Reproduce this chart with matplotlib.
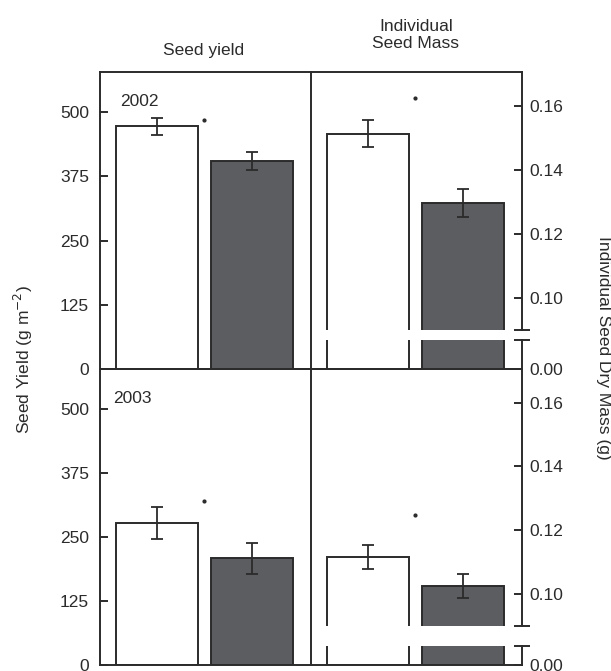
import matplotlib.pyplot as plt
from matplotlib.lines import Line2D
from matplotlib.ticker import FixedLocator

plt.rcParams['font.family'] = ['Liberation Sans', 'DejaVu Sans']

# values
years = ["2002", "2003"]
yield_ctrl = [472, 278]
yield_ctrl_err = [17, 31]
yield_trt = [405, 208]
yield_trt_err = [18, 30]
yield_star = [484, 321]

mass_ctrl = [0.1513, 0.1117]
mass_ctrl_err = [0.0041, 0.0038]
mass_trt = [0.1296, 0.1026]
mass_trt_err = [0.0043, 0.0038]
mass_star = [0.1625, 0.1247]

yield_ticks = [0, 125, 250, 375, 500]
mass_ticks = [0.10, 0.12, 0.14, 0.16]

W, H = 611, 671
ink = "#2b2b2b"
dark = "#5b5d61"
lw = 1.4
fs = 12.5

fig = plt.figure(figsize=(W / 100, H / 100), dpi=100)


def box(x0, y0, x1, y1):
    return [x0 / W, 1 - y1 / H, (x1 - x0) / W, (y1 - y0) / H]


xpos = [0, 1]
bw = 0.863
xlim = (-0.6, 1.621)


def draw_bars(ax, a, b, ea, eb, star, show_err=True):
    ax.patch.set_alpha(0)
    ax.bar(xpos, [a, b], width=bw, color=["white", dark], edgecolor=ink, linewidth=lw)
    if show_err:
        ax.errorbar(xpos, [a, b], yerr=[ea, eb], fmt="none", ecolor=ink,
                    elinewidth=1.3, capsize=4, capthick=1.3)
        ax.plot([0.49], [star], marker="o", ms=2, color=ink)
    ax.set_xlim(*xlim)
    ax.set_xticks([])


rows = [(72, 369, 330, 340), (369, 665, 626, 646)]
lower_top = [0.009, 0.006]
year_x = [0.095, 0.062]

for i, (top, bot, brk_hi, brk_lo) in enumerate(rows):
    # left panel: seed yield
    ax = fig.add_axes(box(100, top, 311, bot))
    draw_bars(ax, yield_ctrl[i], yield_trt[i], yield_ctrl_err[i], yield_trt_err[i], yield_star[i])
    ax.set_ylim(0, 578)
    ax.set_yticks(yield_ticks)
    ax.tick_params(axis="y", direction="in", length=6, width=lw, color=ink,
                   labelsize=fs, labelcolor=ink, pad=8)
    ax.spines["right"].set_visible(False)
    for s in ax.spines.values():
        s.set_linewidth(lw)
        s.set_color(ink)
    ax.text(year_x[i], 0.90, years[i], transform=ax.transAxes, fontsize=fs,
            color=ink, va="center", ha="left")

    # right panel: seed mass, broken axis
    up = fig.add_axes(box(311, top, 522, brk_hi))
    draw_bars(up, mass_ctrl[i], mass_trt[i], mass_ctrl_err[i], mass_trt_err[i], mass_star[i])
    up.set_ylim(0.09, 0.1705)
    up.set_yticks(mass_ticks)
    up.yaxis.set_minor_locator(FixedLocator([0.09]))
    up.yaxis.tick_right()
    up.tick_params(axis="y", which="major", direction="in", length=6, width=lw,
                   color=ink, labelsize=fs, labelcolor=ink, pad=5)
    up.tick_params(axis="y", which="minor", direction="inout", length=11, width=lw, color=ink)
    up.spines["left"].set_visible(False)
    up.spines["bottom"].set_visible(False)
    for s in up.spines.values():
        s.set_linewidth(lw)
        s.set_color(ink)

    lo = fig.add_axes(box(311, brk_lo, 522, bot))
    draw_bars(lo, mass_ctrl[i], mass_trt[i], mass_ctrl_err[i], mass_trt_err[i], mass_star[i],
              show_err=False)
    lo.set_ylim(0, lower_top[i])
    lo.set_yticks([0])
    lo.set_yticklabels(["0.00"])
    lo.yaxis.set_minor_locator(FixedLocator([lower_top[i]]))
    lo.yaxis.tick_right()
    lo.tick_params(axis="y", which="major", direction="in", length=6, width=lw,
                   color=ink, labelsize=fs, labelcolor=ink, pad=5)
    lo.tick_params(axis="y", which="minor", direction="inout", length=11, width=lw, color=ink)
    lo.spines["left"].set_visible(False)
    lo.spines["top"].set_visible(False)
    for s in lo.spines.values():
        s.set_linewidth(lw)
        s.set_color(ink)

# divider between the two columns, unbroken through the axis break
fig.add_artist(Line2D([311 / W, 311 / W], [1 - 72 / H, 1 - 665 / H], color=ink, lw=lw))

fig.text(204 / W, 1 - 50 / H, "Seed yield", ha="center", va="center", fontsize=fs, color=ink)
fig.text(416 / W, 1 - 35 / H, "Individual\nSeed Mass", ha="center", va="center",
         fontsize=fs, color=ink, linespacing=1.15)
fig.text(23 / W, 1 - 360 / H, "Seed Yield (g m$^{-2}$)", rotation=90, ha="center",
         va="center", fontsize=fs, color=ink)
fig.text(603 / W, 1 - 348 / H, "Individual Seed Dry Mass (g)", rotation=-90, ha="center",
         va="center", fontsize=fs, color=ink)

fig.savefig("out.png", dpi=100)
